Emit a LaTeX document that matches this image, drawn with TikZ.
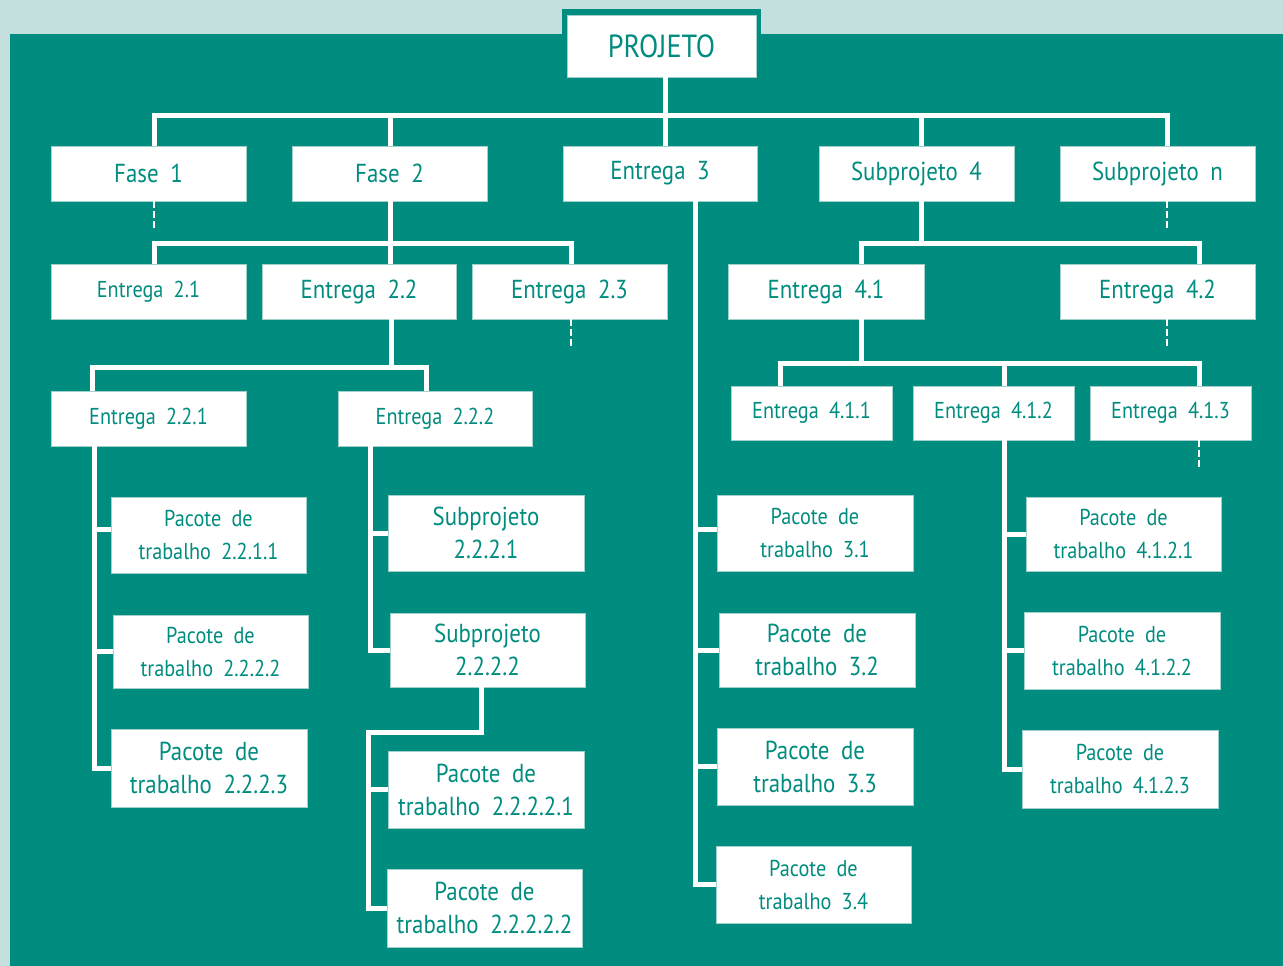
\documentclass[tikz,border=0pt]{standalone}
\usepackage{fontspec}
\setmainfont{PT Sans}
\newfontfamily\bigf{PT Sans}[FakeStretch=0.88,WordSpace=1.2]
\newfontfamily\smallf{PT Sans}[FakeStretch=0.88,WordSpace=1.9]
\definecolor{teal0}{RGB}{0,140,127}
\definecolor{pale}{RGB}{195,224,223}
\definecolor{edge}{RGB}{160,210,203}
\begin{document}
\begin{tikzpicture}[x=1pt,y=-1pt,
  box/.style={fill=white,draw=edge,line width=0.8pt,inner sep=0pt,align=center,text=teal0},
  sz/.style 2 args={minimum width=#1,minimum height=#2},
  big/.style={font=\bigf\fontsize{26}{33}\selectfont},
  sml/.style={font=\smallf\fontsize{23}{33}\selectfont},
  huge/.style={font=\bigf\fontsize{32}{36}\selectfont},
  conn/.style={draw=white,line width=5pt},
  stub/.style={draw=white,line width=1.8pt,dash pattern=on 7pt off 3pt}]
\useasboundingbox (0,0) rectangle (1283,966);
\fill[pale] (0,0) rectangle (1283,966);
\fill[teal0] (10,34) rectangle (1283,966);
\fill[teal0] (562,9) rectangle (761,40);

% nodes
\node[box,huge,sz={189pt}{62pt}] (proj) at (661.5,46) {PROJETO};
\node[box,big,sz={195pt}{55pt}] (f1) at (148.5,173.5) {Fase 1};
\node[box,big,sz={195pt}{55pt}] (f2) at (389.5,173.5) {Fase 2};
\node[box,big,sz={194pt}{55pt}] (e3) at (660,173.5) {Entrega 3};
\node[box,big,sz={195pt}{55pt}] (s4) at (916.5,173.5) {Subprojeto 4};
\node[box,big,sz={195pt}{55pt}] (sn) at (1157.5,173.5) {Subprojeto n};

\node[box,sml,sz={195pt}{55pt}] (e21) at (148.5,291.5) {Entrega 2.1};
\node[box,big,sz={194pt}{55pt}] (e22) at (359,291.5) {Entrega 2.2};
\node[box,big,sz={195pt}{55pt}] (e23) at (569.5,291.5) {Entrega 2.3};
\node[box,big,sz={196pt}{55pt}] (e41) at (826,291.5) {Entrega 4.1};
\node[box,big,sz={195pt}{55pt}] (e42) at (1157.5,291.5) {Entrega 4.2};

\node[box,sml,sz={195pt}{55pt}] (e221) at (148.5,418.5) {Entrega 2.2.1};
\node[box,sml,sz={194pt}{55pt}] (e222) at (435,418.5) {Entrega 2.2.2};
\node[box,sml,sz={161pt}{54pt}] (e411) at (811.5,413) {Entrega 4.1.1};
\node[box,sml,sz={161pt}{54pt}] (e412) at (993.5,413) {Entrega 4.1.2};
\node[box,sml,sz={161pt}{54pt}] (e413) at (1170.5,413) {Entrega 4.1.3};

\node[box,sml,sz={195pt}{76pt}] (p2211) at (208.5,535) {Pacote de\\trabalho 2.2.1.1};
\node[box,sml,sz={195pt}{73pt}] (p2222) at (210.5,651.5) {Pacote de\\trabalho 2.2.2.2};
\node[box,big,sz={196pt}{78pt}] (p2223) at (209,768) {Pacote de\\trabalho 2.2.2.3};

\node[box,big,sz={196pt}{76pt}] (s2221) at (486,533) {Subprojeto\\2.2.2.1};
\node[box,big,sz={195pt}{74pt}] (s2222) at (487.5,650) {Subprojeto\\2.2.2.2};
\node[box,big,sz={196pt}{77pt}] (p22221) at (486,789.5) {Pacote de\\trabalho 2.2.2.2.1};
\node[box,big,sz={195pt}{78pt}] (p22222) at (484.5,908) {Pacote de\\trabalho 2.2.2.2.2};

\node[box,sml,sz={196pt}{76pt}] (p31) at (815,533) {Pacote de\\trabalho 3.1};
\node[box,big,sz={196pt}{74pt}] (p32) at (817,650) {Pacote de\\trabalho 3.2};
\node[box,big,sz={196pt}{77pt}] (p33) at (815,766.5) {Pacote de\\trabalho 3.3};
\node[box,sml,sz={195pt}{77pt}] (p34) at (813.5,884.5) {Pacote de\\trabalho 3.4};

\node[box,sml,sz={195pt}{74pt}] (p4121) at (1123.5,534) {Pacote de\\trabalho 4.1.2.1};
\node[box,sml,sz={196pt}{77pt}] (p4122) at (1122,650.5) {Pacote de\\trabalho 4.1.2.2};
\node[box,sml,sz={196pt}{78pt}] (p4123) at (1120,769) {Pacote de\\trabalho 4.1.2.3};

% junction coordinates
\coordinate (j0) at (665,115);
\coordinate (t1) at (154,115);
\coordinate (t2) at (390,115);
\coordinate (t4) at (921,115);
\coordinate (tn) at (1167,115);
\coordinate (u1) at (154,243);
\coordinate (u2) at (390,243);
\coordinate (u3) at (571,243);
\coordinate (v0) at (391,367);
\coordinate (v1) at (92,367);
\coordinate (v2) at (426,367);
\coordinate (w1) at (94,0);
\coordinate (w2) at (370,0);
\coordinate (k1) at (481,732);
\coordinate (k2) at (368,732);
\coordinate (w4) at (695,0);
\coordinate (y0) at (921,243);
\coordinate (y1) at (861,243);
\coordinate (y2) at (1199,243);
\coordinate (z0) at (861,363);
\coordinate (z1) at (780,363);
\coordinate (z2) at (1004,363);
\coordinate (z3) at (1199,363);

% level 0-1
\draw[conn] (proj.south -| j0) -- (e3.north -| j0);
\draw[conn] (f1.north -| t1) -- (t1) -- (tn) -- (sn.north -| tn);
\draw[conn] (t2) -- (f2.north -| t2);
\draw[conn] (t4) -- (s4.north -| t4);
\draw[stub] (f1.south -| t1) -- ++(0,27);
\draw[stub] (sn.south -| tn) -- ++(0,27);

% Fase 2
\draw[conn] (f2.south -| u2) -- (u2);
\draw[conn] (e21.north -| u1) -- (u1) -- (u3) -- (e23.north -| u3);
\draw[conn] (u2) -- (e22.north -| u2);
\draw[stub] (e23.south -| u3) -- ++(0,27);

% Entrega 2.2
\draw[conn] (e22.south -| v0) -- (v0);
\draw[conn] (e221.north -| v1) -- (v1) -- (v2) -- (e222.north -| v2);

% Entrega 2.2.1
\draw[conn] (e221.south -| w1) |- (p2223.west);
\draw[conn] ([yshift=6pt]p2211.west -| w1) -- ([yshift=6pt]p2211.west);
\draw[conn] (p2222.west -| w1) -- (p2222.west);

% Entrega 2.2.2
\draw[conn] (e222.south -| w2) |- (s2222.west);
\draw[conn] (s2221.west -| w2) -- (s2221.west);
\draw[conn] (s2222.south -| k1) -- (k1) -- (k2) |- (p22222.west);
\draw[conn] (p22221.west -| k2) -- (p22221.west);

% Entrega 3
\draw[conn] (e3.south -| w4) |- (p34.west);
\draw[conn] ([yshift=4pt]p31.west -| w4) -- ([yshift=4pt]p31.west);
\draw[conn] (p32.west -| w4) -- (p32.west);
\draw[conn] (p33.west -| w4) -- (p33.west);

% Subprojeto 4
\draw[conn] (s4.south -| y0) -- (y0);
\draw[conn] (e41.north -| y1) -- (y1) -- (y2) -- (e42.north -| y2);
\draw[stub] (e42.south -| tn) -- ++(0,27);

% Entrega 4.1
\draw[conn] (e41.south -| z0) -- (z0);
\draw[conn] (e411.north -| z1) -- (z1) -- (z3) -- (e413.north -| z3);
\draw[conn] (z2) -- (e412.north -| z2);
\draw[stub] (e413.south -| z3) -- ++(0,27);

% Entrega 4.1.2
\draw[conn] (e412.south -| z2) |- (p4123.west);
\draw[conn] (p4121.west -| z2) -- (p4121.west);
\draw[conn] (p4122.west -| z2) -- (p4122.west);
\end{tikzpicture}
\end{document}
